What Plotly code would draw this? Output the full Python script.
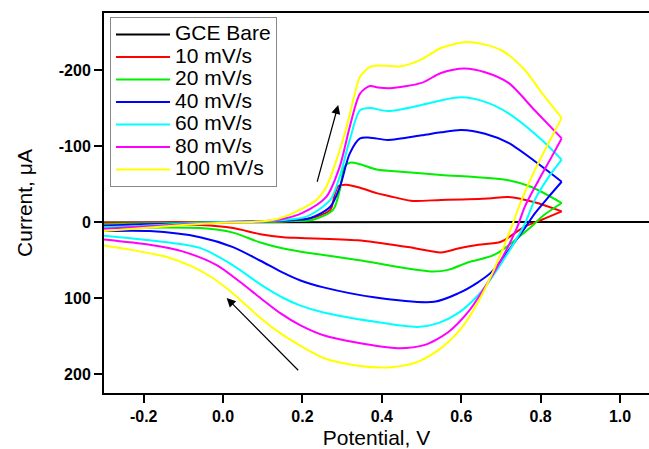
import plotly.graph_objects as go

# ---------------- data (potential in V, current in uA; anodic negative) ----------------
bare_E = [-0.3, 0.2, 0.6, 1.1]
bare_I = [0.5, 0.0, 0.0, 0.0]

# 10 mV/s
f10_E = [-0.3, -0.2, -0.1, 0.0, 0.1, 0.16, 0.235, 0.27, 0.282, 0.29, 0.311, 0.345, 0.387, 0.42, 0.473, 0.549, 0.668, 0.719, 0.785, 0.853]
f10_I = [1, 1, 0, 0, 0, -1, -7, -16, -38, -47, -49, -45, -38, -34, -28, -29, -31, -33, -26, -14]
r10_E = [0.853, 0.803, 0.76, 0.70, 0.643, 0.592, 0.549, 0.466, 0.339, 0.195, 0.152, 0.094, 0.025, -0.058, -0.3]
r10_I = [-14, -3, 6, 26, 30, 35, 40, 33, 24, 21, 20, 16, 8, 4, 3]

# 20 mV/s
f20_E = [-0.3, -0.2, -0.1, 0.0, 0.1, 0.16, 0.227, 0.277, 0.294, 0.306, 0.319, 0.345, 0.387, 0.448, 0.549, 0.719, 0.777, 0.853]
f20_I = [3, 2, 1, 0, 0, -1, -3, -16, -42, -73, -78, -76, -69, -66, -62, -55, -46, -25]
r20_E = [0.853, 0.803, 0.777, 0.684, 0.618, 0.567, 0.524, 0.339, 0.195, 0.152, 0.094, 0.025, -0.058, -0.3]
r20_I = [-25, -7, 6, 43, 53, 63, 65, 50, 39, 35, 27, 14, 8, 8]

# 40 mV/s
f40_E = [-0.3, -0.2, -0.1, 0.0, 0.1, 0.16, 0.219, 0.27, 0.294, 0.319, 0.345, 0.37, 0.415, 0.5, 0.549, 0.6, 0.66, 0.719, 0.803, 0.853]
f40_I = [5, 3, 2, 0, -1, -2, -5, -20, -46, -90, -110, -111, -108, -114, -118, -121, -116, -104, -73, -53]
r40_E = [0.853, 0.82, 0.785, 0.76, 0.676, 0.643, 0.592, 0.532, 0.38, 0.253, 0.195, 0.152, 0.094, 0.025, -0.058, -0.185, -0.3]
r40_I = [-53, -33, -11, 8, 66, 79, 94, 105, 99, 86, 77, 67, 51, 33, 20, 12, 12]

# 60 mV/s
f60_E = [-0.3, -0.2, -0.1, 0.0, 0.1, 0.16, 0.21, 0.27, 0.294, 0.319, 0.345, 0.37, 0.415, 0.5, 0.549, 0.6, 0.66, 0.719, 0.803, 0.853]
f60_I = [7, 5, 2, 0, -1, -3, -7, -29, -60, -108, -147, -150, -146, -154, -160, -164, -158, -143, -108, -82]
r60_E = [0.853, 0.82, 0.785, 0.757, 0.676, 0.643, 0.592, 0.542, 0.49, 0.38, 0.253, 0.195, 0.152, 0.094, 0.025, -0.058, -0.185, -0.3]
r60_I = [-82, -59, -29, 6, 74, 96, 120, 133, 138, 131, 119, 110, 100, 82, 57, 34, 24, 18]

# 80 mV/s
f80_E = [-0.3, -0.2, -0.1, 0.0, 0.1, 0.15, 0.2, 0.26, 0.294, 0.319, 0.345, 0.37, 0.39, 0.42, 0.5, 0.549, 0.608, 0.66, 0.719, 0.785, 0.853]
f80_I = [9, 6, 3, 1, -1, -4, -12, -33, -73, -125, -169, -179, -177, -176, -183, -196, -202, -197, -183, -147, -110]
r80_E = [0.853, 0.828, 0.795, 0.76, 0.74, 0.693, 0.658, 0.618, 0.567, 0.506, 0.44, 0.339, 0.253, 0.195, 0.144, 0.094, 0.043, -0.015, -0.1, -0.185, -0.3]
r80_I = [-110, -86, -55, -20, 8, 57, 87, 118, 145, 162, 166, 159, 149, 136, 120, 100, 79, 57, 39, 30, 23]

# 100 mV/s
f100_E = [-0.3, -0.2, -0.1, 0.0, 0.1, 0.143, 0.193, 0.235, 0.26, 0.286, 0.311, 0.332, 0.345, 0.37, 0.39, 0.448, 0.5, 0.549, 0.618, 0.701, 0.76, 0.803, 0.853]
f100_I = [12, 8, 4, 1, -1, -5, -16, -29, -46, -82, -125, -169, -191, -204, -206, -205, -214, -229, -237, -226, -200, -170, -137]
r100_E = [0.853, 0.82, 0.785, 0.752, 0.727, 0.709, 0.676, 0.643, 0.6, 0.549, 0.49, 0.423, 0.339, 0.253, 0.195, 0.127, 0.076, 0.025, -0.025, -0.076, -0.142, -0.228, -0.3]
r100_I = [-137, -104, -68, -29, 6, 30, 70, 105, 140, 166, 184, 191, 189, 179, 163, 140, 118, 94, 74, 59, 46, 37, 31]

labels = ["10 mV/s", "20 mV/s", "40 mV/s", "60 mV/s", "80 mV/s", "100 mV/s"]
colors = ["#FF0000", "#00EE00", "#0000FF", "#00FFFF", "#FF00FF", "#FFFF00"]
fwd = [(f10_E, f10_I), (f20_E, f20_I), (f40_E, f40_I), (f60_E, f60_I), (f80_E, f80_I), (f100_E, f100_I)]
rev = [(r10_E, r10_I), (r20_E, r20_I), (r40_E, r40_I), (r60_E, r60_I), (r80_E, r80_I), (r100_E, r100_I)]

x_ticks = [-0.2, 0.0, 0.2, 0.4, 0.6, 0.8, 1.0]
y_ticks = [-200, -100, 0, 100, 200]

LEG_TXT = '<span style="font-size:21px">{}</span>'

# ---------------- figure ----------------
fig = go.Figure()
fig.add_trace(go.Scatter(x=bare_E, y=bare_I, mode="lines", name=LEG_TXT.format("GCE Bare"),
                         line=dict(color="black", width=2)))
for lab, col, (fe, fi), (re_, ri) in zip(labels, colors, fwd, rev):
    fig.add_trace(go.Scatter(x=fe, y=fi, mode="lines", name=LEG_TXT.format(lab), legendgroup=lab,
                             line=dict(color=col, width=2, shape="spline", smoothing=0.8)))
    fig.add_trace(go.Scatter(x=re_, y=ri, mode="lines", name=lab, legendgroup=lab, showlegend=False,
                             line=dict(color=col, width=2, shape="spline", smoothing=0.8)))

arrow_style = dict(text="", showarrow=True, arrowhead=2, arrowsize=1.5, arrowwidth=1.2,
                   arrowcolor="black", xref="x", yref="y", axref="x", ayref="y")
fig.add_annotation(x=0.29, y=-154, ax=0.236, ay=-51, **arrow_style)
fig.add_annotation(x=0.009, y=100, ax=0.193, ay=197, **arrow_style)

font_family = "Liberation Sans, Arial, sans-serif"
fig.update_layout(
    width=649, height=449,
    margin=dict(l=104, r=0, t=13, b=56),
    paper_bgcolor="white", plot_bgcolor="white",
    font=dict(family=font_family, color="black"),
    showlegend=True,
    legend=dict(x=0.011, y=0.989, xanchor="left", yanchor="top",
                bordercolor="#888888", borderwidth=1, bgcolor="white",
                font=dict(size=15, family=font_family), itemwidth=54,
                tracegroupgap=0),
)
fig.update_xaxes(
    range=[-0.3, 1.073], tickvals=x_ticks, ticktext=[f"{v:.1f}" for v in x_ticks],
    showgrid=False, zeroline=False, showline=True, linecolor="black", linewidth=2,
    mirror=True, ticks="outside", ticklen=8, tickwidth=2, tickcolor="black",
    tickfont=dict(size=16, weight="bold", family=font_family),
    title=dict(text="Potential, V", font=dict(size=21, family=font_family), standoff=6),
)
fig.update_yaxes(
    range=[225, -275], tickvals=y_ticks, ticktext=[str(v) for v in y_ticks],
    showgrid=False, zeroline=False, showline=True, linecolor="black", linewidth=2,
    ticks="outside", ticklen=8, tickwidth=2, tickcolor="black",
    tickfont=dict(size=16, weight="bold", family=font_family),
    title=dict(text="Current, μA", font=dict(size=21, family=font_family), standoff=20),
)

fig.write_html("out.html", config={"displayModeBar": False},
               post_script="document.body.style.margin='0';")
